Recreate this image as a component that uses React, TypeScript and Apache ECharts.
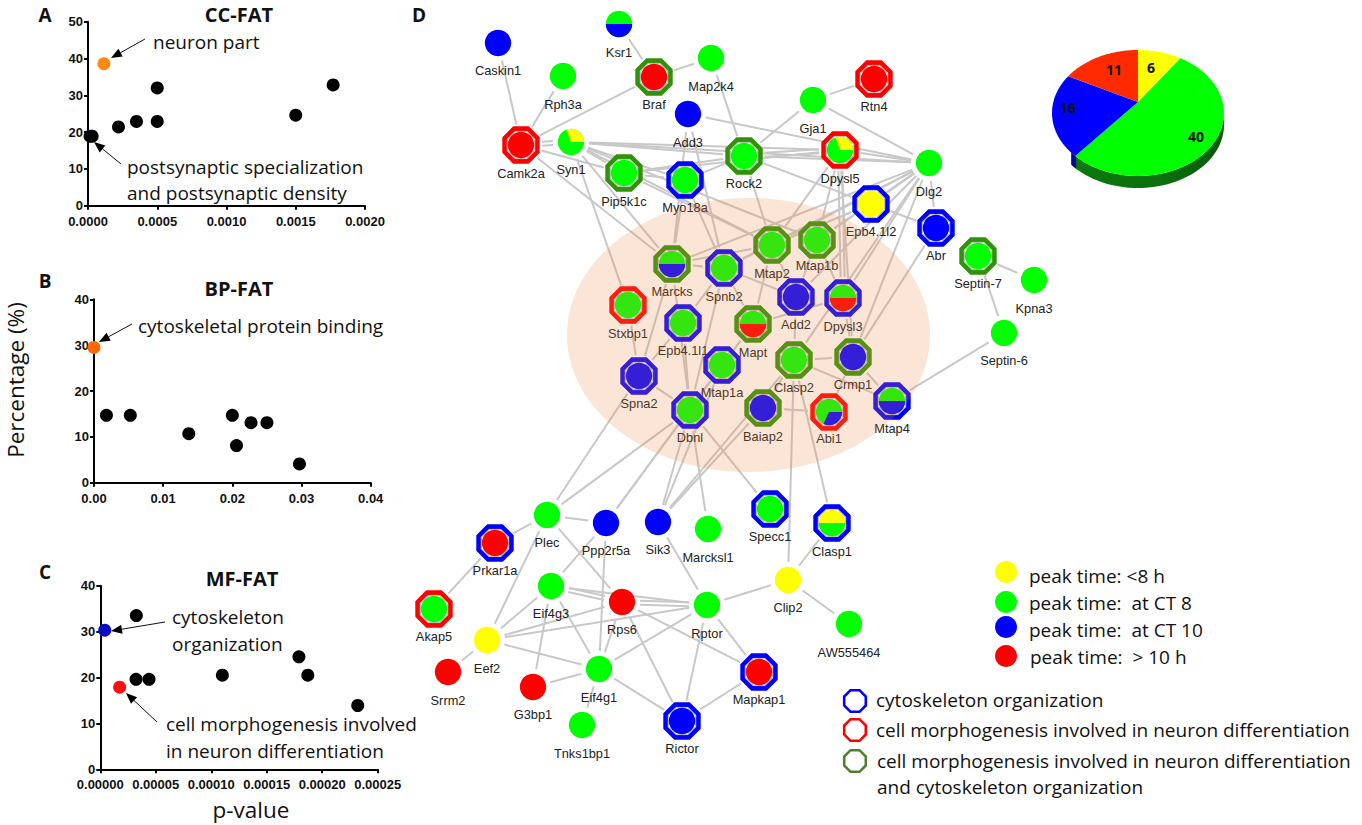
import React, { useEffect, useRef } from "react";
import * as echarts from "echarts";

const UI = "'Open Sans', sans-serif";
const ARIAL = "'Liberation Sans', Arial, sans-serif";

// Panel A
const ccBlack = [[0.000015,18.9],[0.00003,18.9],[0.00022,21.4],[0.00035,22.9],[0.0005,22.9],[0.0005,32],[0.0015,24.6],[0.00177,32.8]];
const ccOrange = [[0.000115,38.6]];
// Panel B
const bpBlack = [[0.0018,14.7],[0.00525,14.7],[0.0137,10.7],[0.02,14.7],[0.0206,8.1],[0.0227,13.1],[0.025,13.1],[0.0297,4.1]];
const bpOrange = [[0,29.5]];
// Panel C
const mfBlack = [[0.0000325,33.5],[0.0000322,19.6],[0.0000439,19.6],[0.00011,20.5],[0.000179,24.5],[0.000187,20.5],[0.000232,13.9]];
const mfBlue = [[0.000004,30.3]];
const mfRed = [[0.0000174,17.9]];

// Pie
const pieValues = [6, 40, 16, 11];
const pieColors = ["#ffff00", "#00ff00", "#0000ff", "#ff2a00"];

const G = "#00ff00", B = "#0000ff", R = "#ff0000", Y = "#ffff00";
// name, x, y, label y, ring, fill
type N = [string, number, number, number, string, string];
const nodes: N[] = [
  ["Caskin1",498,43,70,"",B],["Ksr1",619,24,52,"","GB"],["Rph3a",563,76,104,"",G],["Braf",654,77,104,"g",R],
  ["Map2k4",711,58,86,"",G],["Add3",688,114,142,"",B],["Camk2a",521,145,173,"r",R],["Syn1",571,142,169,"","SY"],
  ["Pip5k1c",624,173,201,"g",G],["Myo18a",685,180,207,"b",G],["Gja1",813,100,128,"",G],["Rtn4",874,79,106,"r",R],
  ["Rock2",744,156,183,"g",G],["Dpysl5",840,150,178,"r","SY"],["Dlg2",929,163,191,"",G],["Epb4.1l2",871,204,231,"b",Y],
  ["Abr",936,228,255,"b",B],["Septin-7",978,256,283,"g",G],["Kpna3",1034,280,308,"",G],["Septin-6",1004,333,360,"",G],
  ["Mtap1b",817,240,265,"g",G],["Mtap2",772,245,273,"g",G],["Marcks",672,264,291,"g","GB"],["Spnb2",724,268,296,"b",G],
  ["Stxbp1",628,305,333,"r",G],["Epb4.1l1",683,323,350,"b",G],["Mapt",753,324,352,"g","GR"],["Add2",796,297,324,"b",B],
  ["Dpysl3",843,298,326,"b","GR"],["Clasp2",794,360,387,"g",G],["Crmp1",853,357,384,"g",B],["Spna2",639,376,403,"b",B],
  ["Mtap1a",722,365,392,"b",G],["Dbnl",690,410,437,"b",G],["Baiap2",763,408,436,"g",B],["Abi1",829,412,438,"r","AB"],
  ["Mtap4",892,401,428,"b","GB"],["Plec",547,515,542,"",G],["Ppp2r5a",606,523,550,"",B],["Sik3",658,522,549,"",B],
  ["Prkar1a",495,543,570,"b",R],["Akap5",434,609,636,"r",G],["Eif4g3",551,586,613,"",G],["Rps6",622,602,629,"",R],
  ["Eef2",487,640,668,"",Y],["Srrm2",448,672,700,"",R],["G3bp1",533,687,714,"",R],["Eif4g1",599,669,697,"",G],
  ["Tnks1bp1",582,725,753,"",G],["Rictor",682,721,748,"b",B],["Marcksl1",708,529,557,"",G],["Specc1",770,509,536,"b",G],
  ["Clasp1",832,523,551,"b","YG"],["Clip2",788,580,607,"",Y],["Rptor",707,605,633,"",G],["AW555464",849,624,652,"",G],
  ["Mapkap1",759,672,699,"b",R],
];
// [colour, clockwise start deg from 12 o'clock, end deg], over a base colour
const mixed: Record<string, [string, [string, number, number][]]> = {
  GB: [G, [[B, 90, 270]]],
  GR: [G, [[R, 90, 270]]],
  YG: [Y, [[G, 90, 270]]],
  SY: [G, [[Y, -20, 90]]],
  AB: [G, [[B, 90, 205]]],
};
const ringColors: Record<string, string> = { g: "#2f9208", r: "#ff0000", b: "#0000ff" };

const edges: [string, string][] = [
  ["Caskin1","Camk2a"],["Rph3a","Camk2a"],["Braf","Camk2a"],["Camk2a","Syn1"],["Ksr1","Braf"],["Braf","Map2k4"],
  ["Map2k4","Rock2"],["Gja1","Rtn4"],["Gja1","Rock2"],["Gja1","Dlg2"],["Add3","Dlg2"],["Add3","Marcks"],["Add3","Spnb2"],
  ["Camk2a","Marcks"],["Camk2a","Pip5k1c"],["Syn1","Rock2"],["Syn1","Dpysl5"],["Syn1","Dlg2"],["Syn1","Pip5k1c"],
  ["Syn1","Myo18a"],["Syn1","Mtap2"],["Syn1","Mtap1b"],["Syn1","Stxbp1"],["Syn1","Marcks"],["Pip5k1c","Rock2"],
  ["Pip5k1c","Myo18a"],["Pip5k1c","Dpysl5"],["Pip5k1c","Mtap2"],["Myo18a","Rock2"],["Myo18a","Marcks"],["Myo18a","Spnb2"],
  ["Rock2","Dlg2"],["Rock2","Dpysl5"],["Rock2","Epb4.1l2"],["Rock2","Mtap2"],["Dpysl5","Dlg2"],["Dpysl5","Mtap2"],
  ["Dpysl5","Mtap1b"],["Dpysl5","Dpysl3"],["Dpysl5","Crmp1"],["Dlg2","Epb4.1l2"],["Dlg2","Abr"],["Dlg2","Mtap2"],
  ["Dlg2","Mtap1b"],["Dlg2","Spnb2"],["Dlg2","Add2"],["Dlg2","Dpysl3"],["Dlg2","Crmp1"],["Dlg2","Clasp2"],["Dlg2","Marcks"],
  ["Epb4.1l2","Abr"],["Epb4.1l2","Mtap2"],["Epb4.1l2","Mtap1b"],["Abr","Crmp1"],["Septin-7","Kpna3"],["Septin-7","Septin-6"],
  ["Septin-6","Mtap4"],["Marcks","Spnb2"],["Marcks","Spna2"],["Marcks","Mtap2"],["Marcks","Dbnl"],["Spnb2","Mtap2"],
  ["Spnb2","Add2"],["Spnb2","Mapt"],["Spnb2","Dbnl"],["Spnb2","Epb4.1l1"],["Stxbp1","Spna2"],["Spna2","Epb4.1l1"],
  ["Spna2","Dbnl"],["Epb4.1l1","Dbnl"],["Mapt","Dpysl3"],["Mapt","Mtap1a"],["Mtap2","Add2"],["Mtap2","Mapt"],
  ["Mtap1b","Dpysl3"],["Mtap1b","Add2"],["Add2","Clasp2"],["Dpysl3","Crmp1"],["Clasp2","Crmp1"],["Clasp2","Mtap4"],
  ["Crmp1","Mtap4"],["Crmp1","Abi1"],["Baiap2","Abi1"],["Clasp2","Baiap2"],["Clasp2","Clip2"],["Clasp2","Clasp1"],
  ["Spna2","Plec"],["Dbnl","Plec"],["Mtap1a","Ppp2r5a"],["Mapt","Ppp2r5a"],["Baiap2","Sik3"],["Dbnl","Sik3"],["Mtap1a","Sik3"],
  ["Clasp2","Sik3"],["Dbnl","Marcksl1"],["Dbnl","Specc1"],["Plec","Ppp2r5a"],["Plec","Prkar1a"],["Plec","Eef2"],["Plec","Rps6"],
  ["Prkar1a","Akap5"],["Ppp2r5a","Eif4g3"],["Ppp2r5a","Eif4g1"],["Eif4g3","Eef2"],["Eif4g3","Rps6"],["Eif4g3","Eif4g1"],
  ["Eif4g3","G3bp1"],["Eif4g3","Rptor"],["Eef2","Rps6"],["Eef2","Rptor"],["Eef2","Eif4g1"],["Eef2","Srrm2"],["G3bp1","Eif4g1"],
  ["Eif4g1","Tnks1bp1"],["Eif4g1","Rps6"],["Eif4g1","Rptor"],["Eif4g1","Rictor"],["Rps6","Rptor"],["Rps6","Rictor"],
  ["Rps6","Mapkap1"],["Rptor","Rictor"],["Rptor","Mapkap1"],["Rictor","Mapkap1"],["Rptor","Clip2"],["Sik3","Rptor"],
  ["Clip2","Clasp1"],["Clip2","AW555464"],
];
const doubled = ["Camk2a-Syn1", "Eif4g3-Rps6", "Rps6-Rptor", "Dpysl5-Dpysl3", "Rock2-Dpysl5"];

const octagon = (cx: number, cy: number, apothem: number) => {
  const R0 = apothem / Math.cos(Math.PI / 8);
  const pts: number[][] = [];
  for (let k = 0; k < 8; k++) {
    const a = Math.PI / 8 + (k * Math.PI) / 4;
    pts.push([cx + R0 * Math.cos(a), cy + R0 * Math.sin(a)]);
  }
  return pts;
};

const txt = (x: number, y: number, text: string, size: number, extra: any = {}) => ({
  type: "text", x, y, z: 20,
  style: { text, fontFamily: UI, fontSize: size, fill: "#111", textAlign: "left", textVerticalAlign: "middle", ...extra },
});

const arrow = (x1: number, y1: number, x2: number, y2: number) => {
  const a = Math.atan2(y2 - y1, x2 - x1);
  const L = 11, W = 4.5;
  const bx = x2 - L * Math.cos(a), by = y2 - L * Math.sin(a);
  return [
    { type: "line", z: 20, shape: { x1, y1, x2: bx, y2: by }, style: { stroke: "#111", lineWidth: 1 } },
    { type: "polygon", z: 20, shape: { points: [[x2, y2], [bx - W * Math.sin(a), by + W * Math.cos(a)], [bx + W * Math.sin(a), by - W * Math.cos(a)]] }, style: { fill: "#000" } },
  ];
};

const panelAxis = (grid: number, max: number, interval: number, digits: number) => ({
  x: {
    type: "value", gridIndex: grid, min: 0, max, interval,
    axisLine: { show: true, onZero: false, lineStyle: { color: "#000", width: 2 } },
    axisTick: { show: true, length: 4, lineStyle: { color: "#000", width: 2 } },
    splitLine: { show: false },
    axisLabel: { color: "#111", fontFamily: ARIAL, fontWeight: "bold", fontSize: 13, margin: 9, showMaxLabel: true, showMinLabel: true, formatter: (v: number) => v.toFixed(digits) },
  },
});
const panelY = (grid: number, max: number) => ({
  type: "value", gridIndex: grid, min: 0, max, interval: 10,
  axisLine: { show: true, onZero: false, lineStyle: { color: "#000", width: 2 } },
  axisTick: { show: true, length: 4, lineStyle: { color: "#000", width: 2 } },
  splitLine: { show: false },
  axisLabel: { color: "#111", fontFamily: ARIAL, fontWeight: "bold", fontSize: 13, margin: 5 },
});
const dots = (grid: number, data: number[][], color: string) => ({
  type: "scatter", xAxisIndex: grid, yAxisIndex: grid, data, symbolSize: 13, itemStyle: { color, opacity: 1 }, z: 3, clip: false, silent: true,
});

const W = 1362, H = 825;
const PIE = { cx: 1138, cy: 113, rx: 86, ry: 63, apexY: 102, depth: 12 };
const BIG = 19;

export default function App() {
  const ref = useRef<HTMLDivElement>(null);
  useEffect(() => {
    document.body.style.margin = "0";
    const chart = echarts.init(ref.current!, undefined, { renderer: "svg" });
    const byName: Record<string, N> = {};
    nodes.forEach((n) => (byName[n[0]] = n));

    const nodeItem = (params: any, api: any) => {
      const n = nodes[params.dataIndex];
      const [cx, cy] = api.coord([n[1], n[2]]);
      const [, ly] = api.coord([n[1], n[3]]);
      const children: any[] = [];
      const r = 13.2;
      if (n[4]) {
        children.push({ type: "polygon", shape: { points: octagon(cx, cy, 16.4) }, style: { fill: "#fff", stroke: ringColors[n[4]], lineWidth: 4.6 } });
        children.push({ type: "polygon", shape: { points: octagon(cx, cy, 13.6) }, style: { fill: "#fff", stroke: "#b8b8b8", lineWidth: 1 } });
      }
      const mix = mixed[n[5]];
      children.push({ type: "circle", shape: { cx, cy, r }, style: { fill: mix ? mix[0] : n[5] } });
      if (mix) {
        mix[1].forEach(([c, s, e]) =>
          children.push({
            type: "sector",
            shape: { cx, cy, r0: 0, r, startAngle: ((s - 90) * Math.PI) / 180, endAngle: ((e - 90) * Math.PI) / 180, clockwise: true },
            style: { fill: c },
          })
        );
      }
      children.push({
        type: "text", x: cx, y: ly,
        style: { text: n[0], fontFamily: ARIAL, fontSize: 12.8, fill: "#222", textAlign: "center", textVerticalAlign: "middle" },
      });
      return { type: "group", children };
    };

    const edgeItem = (params: any, api: any) => {
      const [a, b] = edges[params.dataIndex];
      const A = byName[a], C = byName[b];
      const p = api.coord([A[1], A[2]]), q = api.coord([C[1], C[2]]);
      const d = Math.hypot(q[0] - p[0], q[1] - p[1]) || 1;
      const ux = (q[0] - p[0]) / d, uy = (q[1] - p[1]) / d;
      const ga = A[4] ? 21 : 18, gb = C[4] ? 21 : 18;
      const offs = doubled.includes(a + "-" + b) ? [-2, 2] : [0];
      return {
        type: "group",
        children: offs.map((o) => ({
          type: "line",
          shape: {
            x1: p[0] + ux * ga - uy * o, y1: p[1] + uy * ga + ux * o,
            x2: q[0] - ux * gb - uy * o, y2: q[1] - uy * gb + ux * o,
          },
          style: { stroke: "#c8c8c8", lineWidth: 2 },
        })),
      };
    };

    const total = pieValues.reduce((s, v) => s + v, 0);
    const piePt = (api: any, deg: number, dy = 0) => {
      const t = (deg * Math.PI) / 180;
      return api.coord([PIE.cx + PIE.rx * Math.sin(t), PIE.cy + dy - PIE.ry * Math.cos(t)]);
    };
    const arc = (api: any, from: number, to: number, dy = 0) => {
      const out: number[][] = [];
      for (let k = 0; k <= 48; k++) out.push(piePt(api, from + ((to - from) * k) / 48, dy));
      return out;
    };
    const pieItem = (params: any, api: any) => {
      const i = params.dataIndex;
      let start = 0;
      for (let k = 0; k < i; k++) start += (pieValues[k] / total) * 360;
      const end = start + (pieValues[i] / total) * 360;
      const apex = api.coord([PIE.cx, PIE.apexY]);
      return {
        type: "polygon",
        shape: { points: [apex, ...arc(api, start, end)] },
        style: { fill: pieColors[i] },
      };
    };
    const pieSide = (_: any, api: any) => ({
      type: "group",
      children: [
        {
          type: "polygon",
          shape: { points: [...arc(api, 90, 230), ...arc(api, 230, 90, PIE.depth)] },
          style: { fill: { type: "linear", x: 0, y: 0, x2: 1, y2: 0, colorStops: [{ offset: 0, color: "#0a7a0a" }, { offset: 0.6, color: "#0d6f0d" }, { offset: 1, color: "#075a07" }] } },
        },
        { type: "polygon", shape: { points: [...arc(api, 226, 231), ...arc(api, 231, 226, PIE.depth)] }, style: { fill: "#00009a" } },
      ],
    });

    const option: any = {
      animation: false,
      backgroundColor: "#fff",
      grid: [
        { left: 88, width: 277, top: 21.7, height: 184, show: false },
        { left: 94, width: 276.7, top: 299.3, height: 183.4, show: false },
        { left: 100.3, width: 277.4, top: 585.7, height: 183.6, show: false },
        { left: 0, top: 0, width: W, height: H, show: false },
      ],
      xAxis: [
        panelAxis(0, 0.002, 0.0005, 4).x,
        panelAxis(1, 0.04, 0.01, 2).x,
        panelAxis(2, 0.00025, 0.00005, 5).x,
        { type: "value", gridIndex: 3, min: 0, max: W, show: false },
      ],
      yAxis: [
        panelY(0, 50), panelY(1, 40), panelY(2, 40),
        { type: "value", gridIndex: 3, min: 0, max: H, inverse: true, show: false },
      ],
      series: [
        dots(0, ccBlack, "#000"), dots(0, ccOrange, "#ff8a12"),
        dots(1, bpBlack, "#000"), dots(1, bpOrange, "#ff6a00"),
        dots(2, mfBlack, "#000"), dots(2, mfBlue, "#0a0ac8"), dots(2, mfRed, "#ff1010"),
        { type: "custom", xAxisIndex: 3, yAxisIndex: 3, coordinateSystem: "cartesian2d", clip: false, silent: true, z: 4, data: edges.map((_, i) => [0, i]), renderItem: edgeItem },
        { type: "custom", xAxisIndex: 3, yAxisIndex: 3, coordinateSystem: "cartesian2d", clip: false, silent: true, z: 5, data: nodes.map((n) => [n[1], n[2]]), renderItem: nodeItem },
        { type: "custom", xAxisIndex: 3, yAxisIndex: 3, coordinateSystem: "cartesian2d", clip: false, silent: true, z: 6, data: [[PIE.cx, PIE.cy]], renderItem: pieSide },
        { type: "custom", xAxisIndex: 3, yAxisIndex: 3, coordinateSystem: "cartesian2d", clip: false, silent: true, z: 7, data: pieValues.map((v) => [PIE.cx, v]), renderItem: pieItem },
      ],
      graphic: {
        elements: [
          { type: "ellipse", z: 10, silent: true, shape: { cx: 748.5, cy: 335, rx: 181.5, ry: 137 }, style: { fill: "rgba(236,136,68,0.22)" } },
          txt(45, 15, "A", 19, { fontWeight: "bold", textAlign: "center" }),
          txt(45, 281, "B", 19, { fontWeight: "bold", textAlign: "center" }),
          txt(45, 572, "C", 19, { fontWeight: "bold", textAlign: "center" }),
          txt(419, 15, "D", 19, { fontWeight: "bold", textAlign: "center" }),
          txt(239, 14, "CC-FAT", 20, { fontWeight: "bold", textAlign: "center" }),
          txt(239, 288, "BP-FAT", 20, { fontWeight: "bold", textAlign: "center" }),
          txt(242, 578, "MF-FAT", 20, { fontWeight: "bold", textAlign: "center" }),
          txt(153, 42, "neuron part", BIG),
          txt(127, 167, "postsynaptic specialization", BIG),
          txt(127, 193, "and postsynaptic density", BIG),
          txt(138, 326, "cytoskeletal protein binding", BIG),
          txt(172, 617, "cytoskeleton", BIG),
          txt(172, 644, "organization", BIG),
          txt(166, 724, "cell morphogenesis involved", BIG),
          txt(166, 751, "in neuron differentiation", BIG),
          txt(251, 809, "p-value", 22.5, { textAlign: "center" }),
          { type: "text", x: 15, y: 380, rotation: Math.PI / 2, z: 20, style: { text: "Percentage (%)", fontFamily: UI, fontSize: 22.5, fill: "#111", textAlign: "center", textVerticalAlign: "middle" } },
          ...arrow(145, 39, 111, 58),
          ...arrow(121, 164, 94, 142),
          ...arrow(132, 324, 99, 342),
          ...arrow(165, 622, 111, 631),
          ...arrow(157, 722, 126, 693),
          txt(1151, 67, "6", 14, { fontWeight: "bold", textAlign: "center" }),
          txt(1114, 69, "11", 14, { fontWeight: "bold", textAlign: "center" }),
          txt(1068, 107, "16", 14, { fontWeight: "bold", textAlign: "center" }),
          txt(1196, 136, "40", 14, { fontWeight: "bold", textAlign: "center" }),
          { type: "circle", z: 20, shape: { cx: 1006, cy: 572, r: 11 }, style: { fill: Y } },
          { type: "circle", z: 20, shape: { cx: 1006, cy: 602, r: 11 }, style: { fill: G } },
          { type: "circle", z: 20, shape: { cx: 1006, cy: 627, r: 11 }, style: { fill: B } },
          { type: "circle", z: 20, shape: { cx: 1006, cy: 656, r: 11 }, style: { fill: R } },
          txt(1029, 576, "peak time: <8 h", BIG),
          txt(1029, 603, "peak time:  at CT 8", BIG),
          txt(1029, 630, "peak time:  at CT 10", BIG),
          txt(1030, 657, "peak time:  > 10 h", BIG),
          { type: "polygon", z: 20, shape: { points: octagon(855, 701, 10.8) }, style: { fill: "#fff", stroke: "#0000ff", lineWidth: 2.6 } },
          { type: "polygon", z: 20, shape: { points: octagon(855, 730, 10.8) }, style: { fill: "#fff", stroke: "#ff0000", lineWidth: 2.6 } },
          { type: "polygon", z: 20, shape: { points: octagon(855, 761, 10.8) }, style: { fill: "#fff", stroke: "#4f7f30", lineWidth: 2.6 } },
          txt(876, 700, "cytoskeleton organization", BIG),
          txt(876, 730, "cell morphogenesis involved in neuron differentiation", BIG),
          txt(877, 761, "cell morphogenesis involved in neuron differentiation", BIG),
          txt(877, 787, "and cytoskeleton organization", BIG),
        ],
      },
    };
    chart.setOption(option);
    return () => chart.dispose();
  }, []);
  return <div ref={ref} style={{ position: "absolute", left: 0, top: 0, width: W, height: H }} />;
}
